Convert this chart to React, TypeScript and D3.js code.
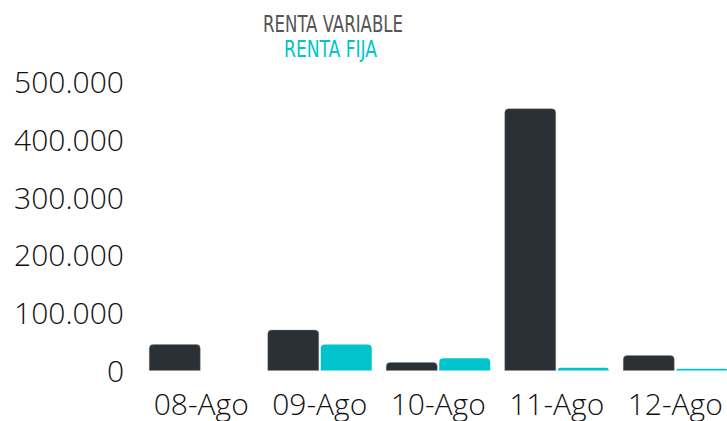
import React from "react";
import * as d3 from "d3";

const categories = ["08-Ago", "09-Ago", "10-Ago", "11-Ago", "12-Ago"];
const seriesNames = ["RENTA VARIABLE", "RENTA FIJA"];
const rentaVariable = [45000, 70000, 14000, 453000, 26000];
const rentaFija = [0, 45000, 21000, 4800, 3000];
const yTicks = [0, 100000, 200000, 300000, 400000, 500000];
const colors = ["#2b3035", "#00c3cc"];
const legendColors = ["#555555", "#00c3cc"];

const W = 727;
const H = 421;

function topRounded(x: number, y: number, w: number, h: number, r: number) {
  if (h <= 0) return "";
  const rr = Math.min(r, h, w / 2);
  return `M${x},${y + h}V${y + rr}Q${x},${y} ${x + rr},${y}H${x + w - rr}Q${x + w},${y} ${x + w},${y + rr}V${y + h}Z`;
}

const fmt = (v: number) => d3.format(",")(v).replace(/,/g, ".");

export default function App() {
  const x0 = d3.scaleBand<string>().domain(categories).range([142, 734.5]).paddingInner(0.1224).paddingOuter(0.0612);
  const x1 = d3.scaleBand<string>().domain(seriesNames).range([0, x0.bandwidth()]).paddingInner(0.0377).paddingOuter(0);
  const y = d3.scaleLinear().domain([0, 500000]).range([370.5, 81.5]);
  const series = [rentaVariable, rentaFija];

  return (
    <svg width={W} height={H} style={{ position: "absolute", left: 0, top: 0, background: "#fff" }}>
      {/* legend */}
      <text x={333} y={32} textAnchor="middle" fill={legendColors[0]} fontFamily="'DejaVu Sans Condensed', 'DejaVu Sans'" fontSize={23} textLength={140} lengthAdjust="spacingAndGlyphs">
        {seriesNames[0]}
      </text>
      <text x={330.5} y={57} textAnchor="middle" fill={legendColors[1]} fontFamily="'DejaVu Sans Condensed', 'DejaVu Sans'" fontSize={23} textLength={93} lengthAdjust="spacingAndGlyphs">
        {seriesNames[1]}
      </text>
      {/* y axis labels */}
      {yTicks.map((t) => (
        <text key={t} x={124} y={y(t) + 11.5} textAnchor="end" fill="#111" fontFamily="'Open Sans'" fontWeight={300} fontSize={30}>
          {fmt(t)}
        </text>
      ))}
      {/* bars */}
      {categories.map((c, i) => (
        <g key={c} transform={`translate(${x0(c)},0)`}>
          {series.map((s, j) => {
            const v = s[i];
            const yy = y(v);
            const h = y(0) - yy;
            return (
              <path key={j} d={topRounded(x1(seriesNames[j])!, yy, x1.bandwidth(), h, 4)} fill={colors[j]} stroke={j === 0 ? "#8a8d90" : "none"} strokeWidth={0.4} />
            );
          })}
        </g>
      ))}
      {/* x labels */}
      {categories.map((c) => (
        <text key={c} x={x0(c)! + x0.bandwidth() / 2} y={415} textAnchor="middle" fill="#111" fontFamily="'Open Sans'" fontWeight={300} fontSize={30}>
          {c}
        </text>
      ))}
    </svg>
  );
}
